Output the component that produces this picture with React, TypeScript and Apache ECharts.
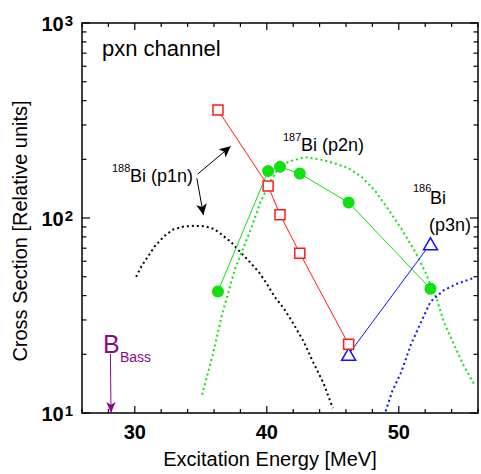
import React, { useEffect, useRef } from "react";
import * as echarts from "echarts";

// ---- data ----
const p1nExpEnergy = [36.3, 40.1, 41.0, 42.5, 46.2];
const p1nExpValues = [358, 146, 104, 66, 22.5];

const p2nExpEnergy = [36.3, 40.1, 41.0, 42.5, 46.2, 52.4];
const p2nExpValues = [42, 174, 183, 169, 120, 43.4];

const p3nExpEnergy = [46.2, 52.4];
const p3nExpValues = [20, 73.8];

const p1nCalcEnergy = [30.1, 30.5, 31.0, 31.5, 32.2, 32.9, 33.7, 34.5, 35.3, 36.0, 36.5, 37.3, 38.0, 38.6, 39.4, 40.0, 40.6, 41.3, 42.0, 42.8, 43.5, 44.3, 45.0];
const p1nCalcValues = [49.9, 56.5, 63.5, 71.4, 80.4, 87.3, 90.4, 91.2, 90.8, 87.9, 83, 75.2, 66.8, 60.6, 52.8, 46, 39.4, 34.3, 28.8, 23.2, 18.3, 14.2, 10.6];

const p2nCalcEnergy = [35.1, 35.9, 36.6, 37.6, 38.3, 38.9, 39.5, 40.3, 41.0, 41.8, 42.9, 44.0, 45.0, 46.2, 47.2, 48.2, 49.2, 50.2, 51.3, 52.0, 52.9, 53.4, 54.2, 54.9, 55.8];
const p2nCalcValues = [12.4, 19.8, 31.8, 55, 72.3, 91.5, 120, 155, 185, 196, 205, 200, 192, 180, 162, 138, 111, 88, 66, 53, 38, 29.4, 22.3, 17.6, 13.7];

const p3nCalcEnergy = [49.0, 49.5, 50.2, 50.9, 51.7, 52.4, 53.4, 54.4, 55.7];
const p3nCalcValues = [10.2, 12.9, 16.3, 22.3, 29.4, 37.2, 42.6, 46, 49.3];

const xTickValues = [26, 28, 30, 32, 34, 36, 38, 40, 42, 44, 46, 48, 50, 52, 54, 56];
const xMajorTicks = [30, 40, 50];
const yMajorTicks = [10, 100, 1000];
const yMinorTicks = [20, 30, 40, 50, 60, 70, 80, 90, 200, 300, 400, 500, 600, 700, 800, 900];

const xMin = 26;
const xMax = 56;
const yMin = 10;
const yMax = 1000;

const bassEnergy = 28.2;

const FONT = '"Liberation Sans", Arial, Helvetica, sans-serif';
const RED = "#ff1a1a";
const GREEN = "#11e011";
const BLUE = "#1010ff";
const PURPLE = "#8a0a8a";

const zip = (xs: number[], ys: number[]) => xs.map((x, i) => [x, ys[i]]);

export default function App() {
  const ref = useRef<HTMLDivElement>(null);

  useEffect(() => {
    if (!ref.current) return;
    const chart = echarts.init(ref.current, undefined, { renderer: "svg" });

    const frameAxisLine = { show: true, lineStyle: { color: "#000", width: 1.5 } };

    const option: any = {
      animation: false,
      backgroundColor: "#fff",
      grid: { left: 82, top: 23, width: 398, height: 392, containLabel: false },
      xAxis: [
        {
          type: "value",
          min: xMin,
          max: xMax,
          interval: 2,
          position: "bottom",
          axisLine: frameAxisLine,
          axisTick: { show: false },
          splitLine: { show: false },
          axisLabel: {
            interval: 0,
            margin: 9,
            color: "#000",
            fontFamily: FONT,
            fontSize: 20,
            fontWeight: "bold",
            formatter: (v: number) => (xMajorTicks.includes(Math.round(v)) ? String(Math.round(v)) : ""),
          },
          name: "Excitation Energy [MeV]",
          nameLocation: "middle",
          nameGap: 36,
          nameTextStyle: { fontFamily: FONT, fontSize: 20, color: "#000", padding: [0, 20, 0, 0] },
        },
        {
          type: "value",
          min: xMin,
          max: xMax,
          interval: 2,
          position: "top",
          axisLine: frameAxisLine,
          axisTick: { show: false },
          splitLine: { show: false },
          axisLabel: { show: false },
        },
      ],
      yAxis: [
        {
          type: "log",
          logBase: 10,
          min: yMin,
          max: yMax,
          position: "left",
          axisLine: frameAxisLine,
          axisTick: { show: false },
          splitLine: { show: false },
          axisLabel: {
            margin: 9,
            color: "#000",
            fontFamily: FONT,
            formatter: (v: number) => `{b|10}{s|${Math.round(Math.log10(v))}}`,
            rich: {
              b: { fontSize: 20, fontWeight: "bold", fontFamily: FONT, color: "#000", verticalAlign: "bottom" },
              s: { fontSize: 15, fontWeight: "bold", fontFamily: FONT, color: "#000", verticalAlign: "top", padding: [0, 0, 6, 1] },
            },
          },
          name: "Cross Section [Relative units]",
          nameLocation: "middle",
          nameGap: 52,
          nameTextStyle: { fontFamily: FONT, fontSize: 20, color: "#000", padding: [0, 26, 0, 0] },
        },
        {
          type: "log",
          logBase: 10,
          min: yMin,
          max: yMax,
          position: "right",
          axisLine: frameAxisLine,
          axisTick: { show: false },
          splitLine: { show: false },
          axisLabel: { show: false },
        },
      ],
      series: [
        {
          name: "p1n calc",
          type: "line",
          data: zip(p1nCalcEnergy, p1nCalcValues),
          showSymbol: false,
          symbol: "none",
          lineStyle: { color: "#000", width: 2, type: [2, 3] },
          markLine: {
            silent: true,
            symbol: ["none", "arrow"],
            symbolSize: [8, 11],
            label: { show: false },
            lineStyle: { color: "#000", width: 1, type: "solid" },
            data: [
              [{ coord: [34.76, 168] }, { coord: [37.26, 233] }],
              [{ coord: [34.7, 160] }, { coord: [35.2, 103.5] }],
            ],
          },
        },
        {
          name: "p2n calc",
          type: "line",
          data: zip(p2nCalcEnergy, p2nCalcValues),
          showSymbol: false,
          symbol: "none",
          lineStyle: { color: GREEN, width: 2, type: [2, 3] },
        },
        {
          name: "p3n calc",
          type: "line",
          data: zip(p3nCalcEnergy, p3nCalcValues),
          showSymbol: false,
          symbol: "none",
          lineStyle: { color: BLUE, width: 2, type: [2, 3] },
          markLine: {
            silent: true,
            symbol: ["none", "arrow"],
            symbolSize: [7, 11],
            label: { show: false },
            lineStyle: { color: PURPLE, width: 1, type: "solid" },
            data: [[{ coord: [bassEnergy - 0.05, 20.1] }, { coord: [bassEnergy, yMin] }]],
          },
        },
        {
          name: "p1n exp",
          type: "line",
          data: zip(p1nExpEnergy, p1nExpValues),
          symbol: "rect",
          symbolSize: 10,
          itemStyle: { color: "#fff", borderColor: RED, borderWidth: 1.5 },
          lineStyle: { color: RED, width: 1 },
          z: 5,
        },
        {
          name: "p2n exp",
          type: "line",
          data: zip(p2nExpEnergy, p2nExpValues),
          symbol: "circle",
          symbolSize: 12,
          itemStyle: { color: GREEN, borderWidth: 0 },
          lineStyle: { color: GREEN, width: 1 },
          z: 4,
        },
        {
          name: "p3n exp",
          type: "line",
          data: zip(p3nExpEnergy, p3nExpValues),
          symbol: "triangle",
          symbolSize: [14, 12],
          itemStyle: { color: "#fff", borderColor: BLUE, borderWidth: 1.5 },
          lineStyle: { color: BLUE, width: 1 },
          z: 4,
        },
        {
          name: "ticks",
          type: "custom",
          silent: true,
          clip: false,
          z: 10,
          data: [[40, 100]],
          renderItem: (params: any, api: any) => {
            const cs = params.coordSys;
            const left = cs.x;
            const right = cs.x + cs.width;
            const top = cs.y;
            const bottom = cs.y + cs.height;
            const st = { stroke: "#000", lineWidth: 1.2 };
            const children: any[] = [];
            xTickValues.forEach((v) => {
              const px = api.coord([v, 100])[0];
              const len = xMajorTicks.includes(v) ? 7 : 4;
              children.push({ type: "line", shape: { x1: px, y1: bottom, x2: px, y2: bottom - len }, style: st });
              children.push({ type: "line", shape: { x1: px, y1: top, x2: px, y2: top + len }, style: st });
            });
            const yt = (v: number, len: number) => {
              const py = api.coord([40, v])[1];
              children.push({ type: "line", shape: { x1: left, y1: py, x2: left + len, y2: py }, style: st });
              children.push({ type: "line", shape: { x1: right, y1: py, x2: right - len, y2: py }, style: st });
            };
            yMajorTicks.forEach((v) => yt(v, 8));
            yMinorTicks.forEach((v) => yt(v, 4.5));
            return { type: "group", children };
          },
        },
      ],
      graphic: [
        {
          type: "text",
          x: 102,
          y: 48,
          style: { text: "pxn channel", font: `22px ${FONT}`, fill: "#000", textVerticalAlign: "middle", verticalAlign: "middle" },
        },
        {
          type: "text",
          x: 112,
          y: 168,
          style: { text: "188", font: `11px ${FONT}`, fill: "#000", textVerticalAlign: "middle", verticalAlign: "middle" },
        },
        {
          type: "text",
          x: 130,
          y: 176,
          style: { text: "Bi (p1n)", font: `18px ${FONT}`, fill: "#000", textVerticalAlign: "middle", verticalAlign: "middle" },
        },
        {
          type: "text",
          x: 283,
          y: 137,
          style: { text: "187", font: `11px ${FONT}`, fill: "#000", textVerticalAlign: "middle", verticalAlign: "middle" },
        },
        {
          type: "text",
          x: 301,
          y: 145,
          style: { text: "Bi (p2n)", font: `18px ${FONT}`, fill: "#000", textVerticalAlign: "middle", verticalAlign: "middle" },
        },
        {
          type: "text",
          x: 413,
          y: 188,
          style: { text: "186", font: `11px ${FONT}`, fill: "#000", textVerticalAlign: "middle", verticalAlign: "middle" },
        },
        {
          type: "text",
          x: 430,
          y: 198,
          style: { text: "Bi", font: `18px ${FONT}`, fill: "#000", textVerticalAlign: "middle", verticalAlign: "middle" },
        },
        {
          type: "text",
          x: 429,
          y: 225,
          style: { text: "(p3n)", font: `18px ${FONT}`, fill: "#000", textVerticalAlign: "middle", verticalAlign: "middle" },
        },
        {
          type: "text",
          x: 103,
          y: 344,
          style: { text: "B", font: `25px ${FONT}`, fill: PURPLE, textVerticalAlign: "middle", verticalAlign: "middle" },
        },
        {
          type: "text",
          x: 120,
          y: 357,
          style: { text: "Bass", font: `14px ${FONT}`, fill: PURPLE, textVerticalAlign: "middle", verticalAlign: "middle" },
        },
      ],
    };

    chart.setOption(option);
    return () => chart.dispose();
  }, []);

  return <div ref={ref} style={{ position: "fixed", left: 0, top: 0, width: 481, height: 474 }} />;
}
